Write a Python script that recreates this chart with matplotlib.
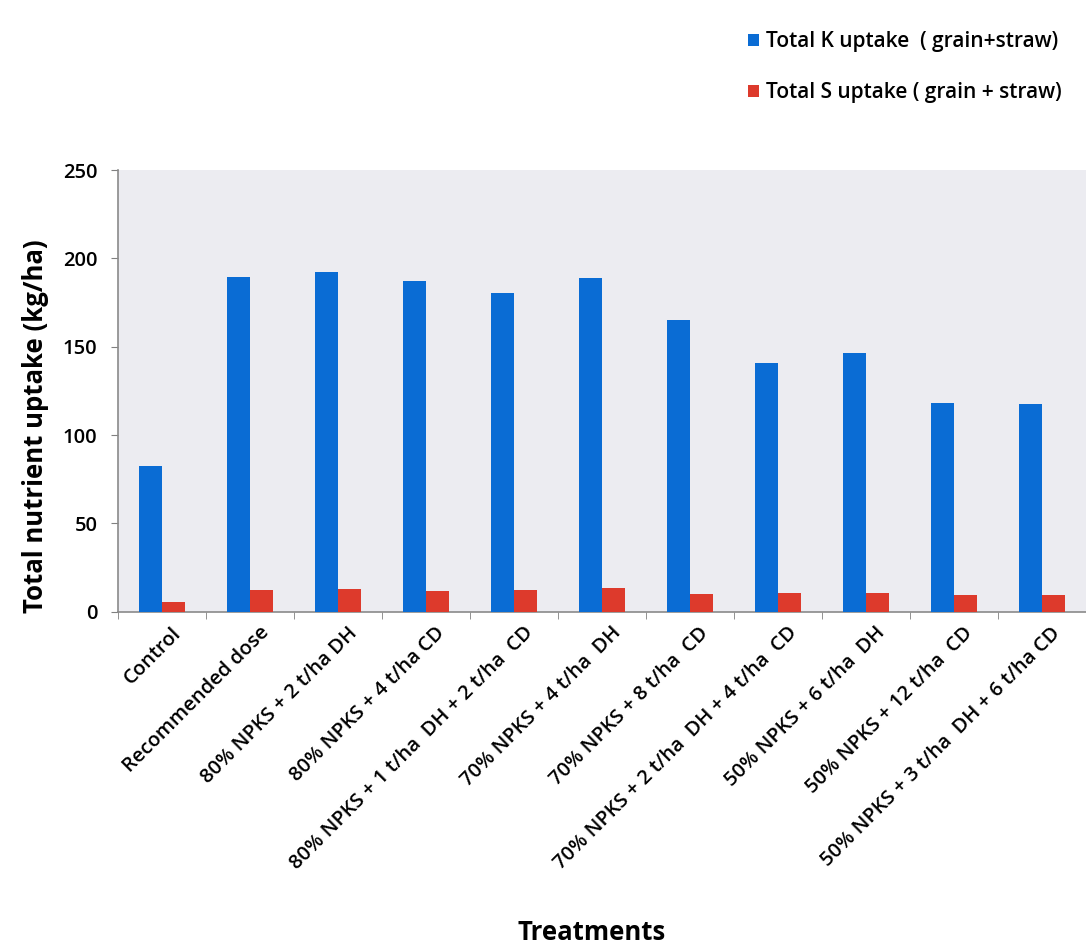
import matplotlib
matplotlib.use("Agg")
import matplotlib.pyplot as plt
import numpy as np

treatments = [
    "Control",
    "Recommended dose",
    "80% NPKS + 2 t/ha DH",
    "80% NPKS + 4 t/ha CD",
    "80% NPKS + 1 t/ha  DH + 2 t/ha  CD",
    "70% NPKS + 4 t/ha  DH",
    "70% NPKS + 8 t/ha  CD",
    "70% NPKS + 2 t/ha  DH + 4 t/ha  CD",
    "50% NPKS + 6 t/ha  DH",
    "50% NPKS + 12 t/ha  CD",
    "50% NPKS + 3 t/ha  DH + 6 t/ha CD",
]
k_uptake = [82.6, 189.6, 192.1, 187.2, 180.2, 188.7, 165.4, 140.7, 146.7, 118.0, 117.5]
s_uptake = [5.5, 12.1, 13.0, 11.5, 12.1, 13.4, 10.2, 10.9, 10.6, 9.6, 9.6]
k_label = "Total K uptake  ( grain+straw)"
s_label = "Total S uptake ( grain + straw)"
y_ticks = [0, 50, 100, 150, 200, 250]

plt.rcParams["font.family"] = ["Open Sans", "DejaVu Sans"]

fig = plt.figure(figsize=(10.86, 9.5), dpi=100)
ax = fig.add_axes([0.109, 0.356, 0.891, 0.465])
ax.set_facecolor("#ececf1")

x = np.arange(len(treatments))
w = 0.26
ax.bar(x - w / 2, k_uptake, w, color="#0a6cd4", label=k_label, zorder=3)
ax.bar(x + w / 2, s_uptake, w, color="#dd3a2c", label=s_label, zorder=3)

ax.set_xlim(-0.5, len(treatments) - 0.5)
ax.set_ylim(0, 250)
ax.set_yticks(y_ticks)
ax.set_yticklabels([str(v) for v in y_ticks], fontsize=14.5, fontweight="semibold")
ax.tick_params(axis="y", length=5, color="#808080", pad=10)

ax.set_xticks(x + 0.1)
ax.set_xticklabels(treatments, rotation=45, ha="right", va="top",
                   rotation_mode="anchor", fontsize=14.5, fontweight="semibold")
ax.tick_params(axis="x", length=0, pad=8)
ax.set_xticks(np.arange(-0.5, len(treatments), 1.0), minor=True)
ax.tick_params(axis="x", which="minor", length=5, color="#808080")

for side in ("top", "right"):
    ax.spines[side].set_visible(False)
for side in ("left", "bottom"):
    ax.spines[side].set_color("#8a8a8a")
    ax.spines[side].set_linewidth(1.2)

ax.set_ylabel("Total nutrient uptake (kg/ha)", fontsize=18.5, fontweight="bold")
ax.yaxis.set_label_coords(-0.072, 0.42)
fig.text(0.545, 0.004, "Treatments", ha="center", va="bottom", fontsize=18.5, fontweight="bold")

handles, labels = ax.get_legend_handles_labels()
fig.legend(handles, labels, loc="upper right", bbox_to_anchor=(0.995, 0.987),
           frameon=False, prop={"weight": "semibold", "size": 15},
           handlelength=0.5, handleheight=0.5, handletextpad=0.35, labelspacing=1.45)

fig.savefig("out.png", dpi=100)
